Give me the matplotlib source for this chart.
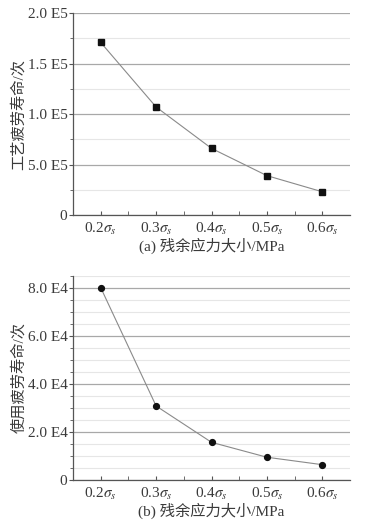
import matplotlib
matplotlib.use("Agg")
import matplotlib.pyplot as plt
from matplotlib.ticker import MultipleLocator, FixedLocator

plt.rcParams["font.family"] = ["Liberation Serif", "Noto Sans CJK SC", "DejaVu Sans"]
plt.rcParams["mathtext.fontset"] = "stix"

# data
stress = [0.2, 0.3, 0.4, 0.5, 0.6]
stress_labels = [r"0.2$\sigma_s$", r"0.3$\sigma_s$", r"0.4$\sigma_s$", r"0.5$\sigma_s$", r"0.6$\sigma_s$"]
process_life = [1.71, 1.07, 0.66, 0.39, 0.23]      # x 1E5
service_life = [8.0, 3.08, 1.57, 0.95, 0.64]        # x 1E4

top_ticks = [0, 0.5, 1.0, 1.5, 2.0]
top_ticklabels = ["0", "5.0 E5", "1.0 E5", "1.5 E5", "2.0 E5"]
bot_ticks = [0, 2, 4, 6, 8]
bot_ticklabels = ["0", "2.0 E4", "4.0 E4", "6.0 E4", "8.0 E4"]

GRID_MAJ = "#a8a8a8"
GRID_MIN = "#e6e6e6"
SPINE = "#555555"
LINE = "#8a8a8a"
TXT = "#3a3a3a"

fig = plt.figure(figsize=(3.66, 5.27), dpi=100)
ax1 = fig.add_axes([0.1995, 0.592, 0.757, 0.383])
ax2 = fig.add_axes([0.1995, 0.089, 0.757, 0.388])


def style(ax, yticks, ylabels, ymax, yminor, ylabel, xlabel):
    ax.set_xlim(0.15, 0.65)
    ax.set_ylim(0, ymax)
    ax.set_xticks(stress)
    ax.set_xticklabels(stress_labels, fontsize=11, color=TXT)
    ax.xaxis.set_minor_locator(FixedLocator([0.25, 0.35, 0.45, 0.55]))
    ax.set_yticks(yticks)
    ax.set_yticklabels(ylabels, fontsize=11, color=TXT)
    ax.yaxis.set_minor_locator(MultipleLocator(yminor))
    ax.grid(True, which="major", axis="y", color=GRID_MAJ, lw=0.9)
    ax.grid(True, which="minor", axis="y", color=GRID_MIN, lw=0.8)
    ax.set_axisbelow(True)
    for s in ("top", "right"):
        ax.spines[s].set_visible(False)
    for s in ("left", "bottom"):
        ax.spines[s].set_color(SPINE)
        ax.spines[s].set_linewidth(0.9)
    ax.tick_params(axis="x", which="both", direction="in", length=3, color=SPINE, pad=4)
    ax.tick_params(axis="y", which="major", direction="out", length=3, color=SPINE, pad=1)
    ax.tick_params(axis="y", which="minor", direction="out", length=2, color=SPINE)
    ax.set_ylabel(ylabel, fontsize=11, color=TXT, labelpad=1)
    ax.set_xlabel(xlabel, fontsize=11, color=TXT, labelpad=1)


ax1.plot(stress, process_life, color=LINE, lw=0.8, marker="s", ms=4,
         mfc="#111111", mec="#111111")
style(ax1, top_ticks, top_ticklabels, 2.0, 0.25, "工艺疲劳寿命/次", "(a) 残余应力大小/MPa")

ax2.plot(stress, service_life, color=LINE, lw=0.8, marker="o", ms=4.2,
         mfc="#111111", mec="#111111")
style(ax2, bot_ticks, bot_ticklabels, 8.5, 0.5, "使用疲劳寿命/次", "(b) 残余应力大小/MPa")

fig.savefig("out.png", dpi=100, facecolor="white")
